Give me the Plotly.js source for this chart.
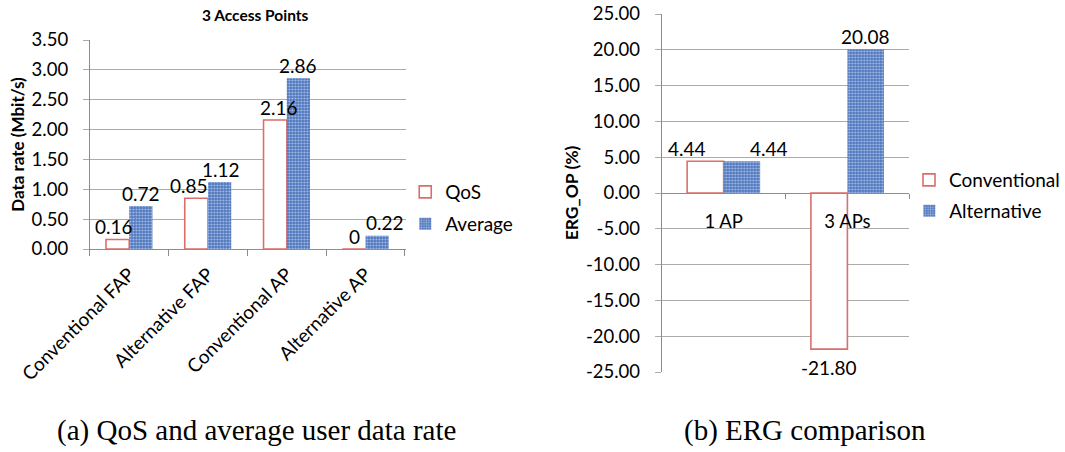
<!DOCTYPE html>
<html><head><meta charset="utf-8">
<script src="https://cdn.plot.ly/plotly-3.0.1.min.js"></script>
<style>html,body{margin:0;padding:0;background:#fff}#chart{width:1065px;height:452px}</style>
</head><body><div id="chart"></div>
<script>
// ---- data (a) ----
const catsA = ['Conventional FAP', 'Alternative FAP', 'Conventional AP', 'Alternative AP'];
const qos = [0.16, 0.85, 2.16, 0];
const average = [0.72, 1.12, 2.86, 0.22];
const ticksA = [0, 0.5, 1, 1.5, 2, 2.5, 3, 3.5];
// ---- data (b) ----
const catsB = ['1 AP', '3 APs'];
const conventional = [4.44, -21.80];
const alternative = [4.44, 20.08];
const ticksB = [-25, -20, -15, -10, -5, 0, 5, 10, 15, 20, 25];

const W = 1065, H = 452;
const px = v => v / W, py = v => 1 - v / H;
const FONT = 'Lato, "Open Sans", sans-serif';
const SERIF = '"Liberation Serif", "DejaVu Serif", serif';
const fmt = v => v === 0 ? '0' : v.toFixed(2);
const red = '#dc6e6a';
const blueMarker = {color: '#5077bd', line: {width: 0},
  pattern: {shape: '.', fgcolor: '#a9c0e8', bgcolor: '#5077bd', size: 3, solidity: 0.35}};
const redMarker = {color: '#ffffff', line: {color: red, width: 1.6}};
const lblFont = {family: FONT, size: 19, color: '#000'};

// data-label styling: pixel nudges around the bar centres (Excel spreads crowded labels)
const BARGAP = 0.41;
const barHalfA = (317 / catsA.length) * (1 - BARGAP) / 4;
const barHalfB = (248 / catsB.length) * (1 - BARGAP) / 4;
const nudgeQos = [-4, -7, 4, 1], nudgeAvg = [0, 1, 0, 8];
const nudgeConv = [-18, 0], nudgeAlt = [27, 0];

const traces = [
  {type: 'bar', name: 'QoS', x: catsA, y: qos, xaxis: 'x', yaxis: 'y', marker: redMarker,
   cliponaxis: false, legend: 'legend', hoverinfo: 'none'},
  {type: 'bar', name: 'Average', x: catsA, y: average, xaxis: 'x', yaxis: 'y', marker: blueMarker,
   cliponaxis: false, legend: 'legend2', hoverinfo: 'none'},
  {type: 'bar', name: 'Conventional', x: catsB, y: conventional, xaxis: 'x2', yaxis: 'y2', marker: redMarker,
   cliponaxis: false, legend: 'legend3', hoverinfo: 'none'},
  {type: 'bar', name: 'Alternative', x: catsB, y: alternative, xaxis: 'x2', yaxis: 'y2', marker: blueMarker,
   cliponaxis: false, legend: 'legend4', hoverinfo: 'none'}
];

const labelAnn = (ax, cat, v, shift) => ({
  text: fmt(v), xref: 'x' + ax, yref: 'y' + ax, x: cat, y: v, showarrow: false,
  xanchor: 'center', yanchor: 'middle', xshift: shift,
  yshift: v >= 0 ? 13 : -18, font: lblFont
});
const labels = [];
catsA.forEach((c, i) => {
  labels.push(labelAnn('', c, qos[i], -barHalfA + nudgeQos[i]));
  labels.push(labelAnn('', c, average[i], barHalfA + nudgeAvg[i]));
});
catsB.forEach((c, i) => {
  labels.push(labelAnn('2', c, conventional[i], -barHalfB + nudgeConv[i]));
  labels.push(labelAnn('2', c, alternative[i], barHalfB + nudgeAlt[i]));
});

const grid = '#ababab', axc = '#8c8c8c';
const tickF = {family: FONT, size: 18.5, color: '#000'};
const legBase = {font: {family: FONT, size: 19, color: '#000'}, bgcolor: 'rgba(0,0,0,0)',
  xanchor: 'left', yanchor: 'middle', itemwidth: 30, tracegroupgap: 0};

const layout = {
  width: W, height: H, margin: {l: 0, r: 0, t: 0, b: 0},
  paper_bgcolor: '#fff', plot_bgcolor: '#fff', showlegend: true,
  barmode: 'group', bargap: BARGAP, bargroupgap: 0,
  font: {family: FONT, color: '#000'},
  xaxis: {domain: [px(90), px(407)], anchor: 'y', type: 'category', showgrid: false,
    showline: true, linecolor: axc, linewidth: 1, ticks: 'outside', tickson: 'boundaries',
    ticklen: 6, tickcolor: axc, tickangle: -45, ticklabelstandoff: 6,
    tickfont: {family: FONT, size: 19, color: '#000'}, zeroline: false, fixedrange: true},
  yaxis: {domain: [py(249), py(40)], anchor: 'x', range: [0, 3.5], tickvals: ticksA,
    ticktext: ticksA.map(v => v.toFixed(2)), showgrid: true, gridcolor: grid, gridwidth: 1,
    showline: true, linecolor: axc, ticks: 'outside', ticklen: 6, tickcolor: grid,
    ticklabelstandoff: 11, tickfont: tickF, zeroline: false,
    title: {text: '<b>Data rate (Mbit/s)</b>', font: {family: FONT, size: 17, color: '#000'}, standoff: 2},
    fixedrange: true},
  xaxis2: {domain: [px(663), px(911)], anchor: 'free', position: py(193), type: 'category',
    showgrid: false, showline: true, linecolor: axc, linewidth: 1, ticks: 'outside',
    tickson: 'boundaries', ticklen: 5, tickcolor: axc, ticklabelstandoff: 12,
    tickfont: tickF, zeroline: false, fixedrange: true},
  yaxis2: {domain: [py(372), py(14)], anchor: 'x2', range: [-25, 25], tickvals: ticksB,
    ticktext: ticksB.map(v => v.toFixed(2)), showgrid: true, gridcolor: grid, gridwidth: 1,
    showline: true, linecolor: axc, ticks: 'outside', ticklen: 6, tickcolor: grid,
    ticklabelstandoff: 11, tickfont: tickF, zeroline: false,
    title: {text: '<b>ERG_OP (%)</b>', font: {family: FONT, size: 17.5, color: '#000'}, standoff: 2},
    fixedrange: true},
  legend: Object.assign({}, legBase, {x: px(406), y: py(192)}),
  legend2: Object.assign({}, legBase, {x: px(406), y: py(224)}),
  legend3: Object.assign({}, legBase, {x: px(911), y: py(180)}),
  legend4: Object.assign({}, legBase, {x: px(911), y: py(211)}),
  annotations: [
    {text: '<b>3 Access Points</b>', xref: 'paper', yref: 'paper', x: px(256), y: py(15),
     xanchor: 'center', yanchor: 'middle', showarrow: false,
     font: {family: FONT, size: 15.5, color: '#000'}},
    {text: '(a) QoS and average user data rate', xref: 'paper', yref: 'paper', x: px(257), y: py(430),
     xanchor: 'center', yanchor: 'middle', showarrow: false,
     font: {family: SERIF, size: 29, color: '#000'}},
    {text: '(b) ERG comparison', xref: 'paper', yref: 'paper', x: px(807), y: py(430),
     xanchor: 'center', yanchor: 'middle', showarrow: false,
     font: {family: SERIF, size: 29, color: '#000'}}
  ].concat(labels)
};

Plotly.newPlot('chart', traces, layout, {displayModeBar: false, staticPlot: true});
</script></body></html>
